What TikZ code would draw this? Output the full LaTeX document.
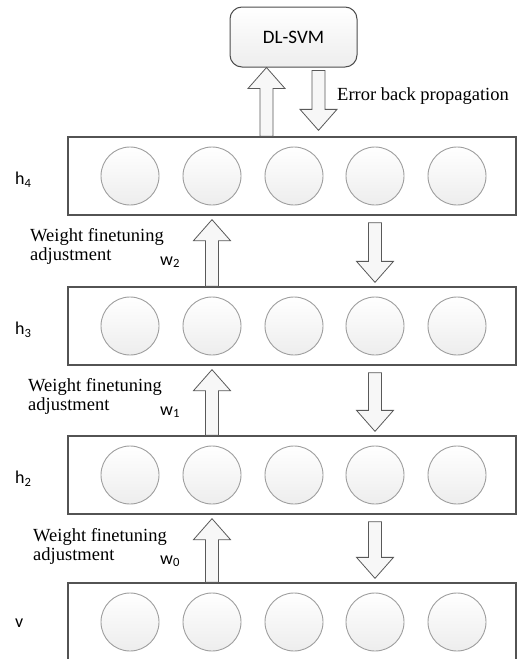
\documentclass[tikz,border=0pt]{standalone}
\usepackage{fontspec}
\setmainfont{Liberation Serif}
\newfontfamily\sansf{Carlito}
\usetikzlibrary{calc,positioning}
\tikzset{
  layer/.style={draw=gray!65!black,line width=1.3pt,fill=white,
    minimum width=448pt,minimum height=78pt,inner sep=0pt},
  unit/.style={circle,draw=gray!75,line width=0.9pt,top color=white,bottom color=gray!14,
    minimum size=58pt,inner sep=0pt},
  svm/.style={draw=gray!60!black,line width=1pt,rounded corners=12pt,top color=white,
    bottom color=gray!14,minimum width=127pt,minimum height=60pt,
    font=\sansf\fontsize{19}{21}\selectfont},
  barrow/.style={draw=gray!70!black,line width=0.8pt,fill=gray!6,line join=miter},
  lbl/.style={font=\fontsize{18.5}{19}\selectfont,align=left,inner sep=0pt},
  hl/.style={font=\sansf\fontsize{18}{20}\selectfont,inner sep=0pt},
}
% vertical block arrow from #1 to #2
\newcommand\blockarrow[2]{%
  \draw[barrow] let \p1=(#1), \p2=(#2), \n1={\y2-21*sign(\y2-\y1)} in
    ({\x1-6.5pt},\y1) -- ({\x1-6.5pt},{\n1*1pt}) -- ({\x1-18.5pt},{\n1*1pt}) -- (\x1,\y2)
    -- ({\x1+18.5pt},{\n1*1pt}) -- ({\x1+6.5pt},{\n1*1pt}) -- ({\x1+6.5pt},\y1) -- cycle;}

\begin{document}
\begin{tikzpicture}[x=1pt,y=-1pt]
  \useasboundingbox (0,0) rectangle (524,659);
  % ---------- layers ----------
  \node[layer] (h4) at (292,176) {};
  \node[layer] (h3) at (292,326) {};
  \node[layer] (h2) at (292,475) {};
  \node[layer] (v) at (292,622) {};
  \foreach \i/\x in {1/130,2/212,3/294,4/375,5/457} {
    \node[unit] (h4u\i) at (\x,176) {};
    \node[unit] (h3u\i) at (\x,326) {};
    \node[unit] (h2u\i) at (\x,475) {};
    \node[unit] (vu\i) at (\x,622) {};
  }
  \node[hl,anchor=west] (lh4) at (15,180) {h\textsubscript{4}};
  \node[hl,anchor=west] (lh3) at (15,330) {h\textsubscript{3}};
  \node[hl,anchor=west] (lh2) at (15,479) {h\textsubscript{2}};
  \node[hl,anchor=west] (lv) at (15,623) {v};
  % ---------- classifier on top ----------
  \node[svm] (dl) at (293.5,37) {DL-SVM};
  \coordinate (ua) at ($(dl.south)+(-27,0)$);
  \coordinate (da) at ($(dl.south)+(25,3)$);
  \blockarrow{h4.north -| ua}{ua}
  \blockarrow{da}{$(h4.north -| da)+(0,-6)$}
  \node[lbl,anchor=base west] (ebp) at (337,100) {Error back propagation};
  % ---------- between the layers ----------
  \blockarrow{h3.north -| h3u2}{$(h4.south -| h4u2)+(0,4)$}
  \blockarrow{$(h4.south -| h4u4)+(0,7)$}{$(h3.north -| h3u4)+(0,-4)$}
  \blockarrow{h2.north -| h2u2}{$(h3.south -| h3u2)+(0,4)$}
  \blockarrow{$(h3.south -| h3u4)+(0,7)$}{$(h2.north -| h2u4)+(0,-4)$}
  \blockarrow{v.north -| vu2}{$(h2.south -| h2u2)+(0,4)$}
  \blockarrow{$(h2.south -| h2u4)+(0,7)$}{$(v.north -| vu4)+(0,-4)$}
  % base of these nodes is the baseline of their last line
  \node[lbl,anchor=base west] (wf2) at (30,260) {Weight finetuning\\adjustment};
  \node[lbl,anchor=base west] (wf1) at (28,410) {Weight finetuning\\adjustment};
  \node[lbl,anchor=base west] (wf0) at (33,560) {Weight finetuning\\adjustment};
  \node[hl,anchor=base west] (w2) at (160,265) {w\textsubscript{2}};
  \node[hl,anchor=base west] (w1) at (160,415) {w\textsubscript{1}};
  \node[hl,anchor=base west] (w0) at (160,564) {w\textsubscript{0}};
\end{tikzpicture}
\end{document}
